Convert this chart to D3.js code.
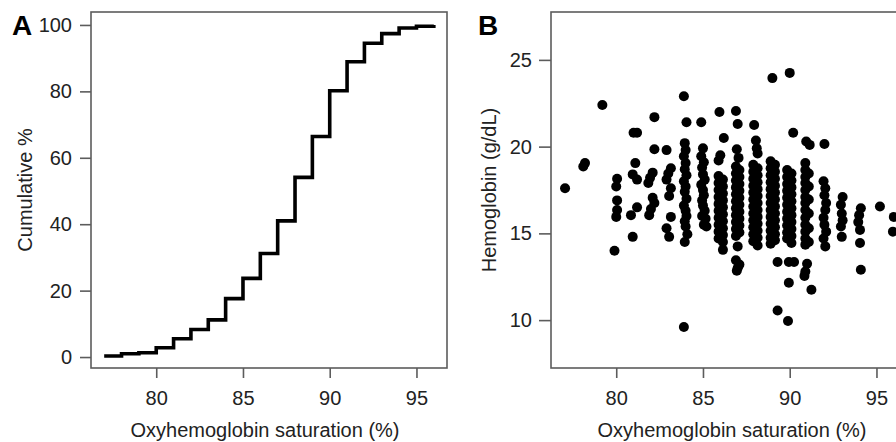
<!DOCTYPE html>
<html>
<head>
<meta charset="utf-8">
<script src="https://cdn.jsdelivr.net/npm/d3@7"></script>
<style>
  html, body { margin: 0; padding: 0; background: #fff; }
  svg { display: block; }
</style>
</head>
<body>
<svg id="chart" width="896" height="442"></svg>
<script>
// ---- Panel A: cumulative distribution of oxyhemoglobin saturation ----
const stepSat = [77, 78, 79, 80, 81, 82, 83, 84, 85, 86, 87, 88, 89, 90, 91, 92, 93, 94, 95, 96];
const cumPercent = [0.3, 1.0, 1.3, 2.8, 5.5, 8.3, 11.2, 17.6, 23.7, 31.2, 41.0, 54.1, 66.4, 80.2, 88.9, 94.5, 97.4, 99.1, 99.6, 100];

// ---- Axis ticks ----
const satTicks = [80, 85, 90, 95];
const cumTicks = [0, 20, 40, 60, 80, 100];
const hgbTicks = [10, 15, 20, 25];

// ---- Panel B: hemoglobin vs. oxyhemoglobin saturation (one entry per subject) ----
const oxySat = [
  77.05,
  78.1, 78.2,
  79.2, 79.9,
  80.05, 80.0, 80.05, 80.05, 80.0,
  81.0, 81.2, 81.1, 80.95, 81.2, 81.2, 80.85, 80.95,
  82.2, 82.2, 82.1, 81.95, 81.85, 82.1, 82.2, 82.0, 81.9,
  82.9, 83.15, 83.0, 82.9, 83.15, 83.05, 83.15, 82.9, 83.05,
  83.9, 84.05, 83.9, 83.95, 84.0, 83.9, 84.0, 83.95, 84.05, 83.9, 84.0, 83.95, 84.05, 83.9, 84.0, 84.05, 83.95, 84.0, 84.1, 83.95,
  84.9, 85.0, 84.9, 85.05, 84.95, 85.0, 85.1, 84.9, 85.0, 85.05, 84.95, 85.0, 85.1, 84.95, 85.15, 85.05, 85.2,
  85.95, 86.2, 86.0, 85.9,
  85.9, 85.9, 85.9, 85.9, 85.9, 85.9, 85.9, 85.9, 85.9, 85.9,
  86.15, 86.15, 86.15, 86.15, 86.15, 86.15, 86.15, 86.15, 86.15, 86.15, 86.15,
  86.9, 87.0, 86.95, 87.05,
  86.9, 86.9, 86.9, 86.9, 86.9, 86.9, 86.9, 86.9, 86.9, 86.9, 86.9,
  87.1, 87.1, 87.1, 87.1, 87.1, 87.1, 87.1, 87.1, 87.1, 87.1,
  87.0, 86.9, 87.1, 87.0, 86.95,
  87.95, 88.05, 88.1, 88.15,
  87.9, 87.9, 87.9, 87.9, 87.9, 87.9, 87.9, 87.9, 87.9, 87.9, 87.9, 87.9,
  88.15, 88.15, 88.15, 88.15, 88.15, 88.15, 88.15, 88.15, 88.15, 88.15, 88.15, 88.15,
  89.0, 89.3, 89.3,
  88.9, 88.9, 88.9, 88.9, 88.9, 88.9, 88.9, 88.9, 88.9, 88.9, 88.9, 88.9, 88.9,
  89.15, 89.15, 89.15, 89.15, 89.15, 89.15, 89.15, 89.15, 89.15, 89.15, 89.15, 89.15,
  90.0, 90.2, 89.95, 90.25, 89.95, 89.9,
  89.85, 89.85, 89.85, 89.85, 89.85, 89.85, 89.85, 89.85, 89.85, 89.85, 89.85,
  90.1, 90.1, 90.1, 90.1, 90.1, 90.1, 90.1, 90.1, 90.1, 90.1, 90.1,
  90.95, 91.15, 91.0, 90.9, 90.85, 91.25,
  90.9, 90.9, 90.9, 90.9, 90.9, 90.9, 90.9, 90.9, 90.9, 90.9, 90.9, 90.9, 90.9,
  91.1, 91.1, 91.1, 91.1, 91.1, 91.1,
  92.0, 91.95, 92.05, 92.0, 92.1, 92.05, 91.95, 92.0, 92.1, 91.95, 92.05,
  93.05, 92.95, 93.0, 93.05, 92.95, 93.0,
  94.1, 94.0, 93.95, 94.05, 94.05, 94.1,
  95.2, 96.0, 95.95
];
const hemoglobin = [
  17.6,
  18.85, 19.05,
  22.4, 14.0,
  18.15, 17.7, 16.9, 16.35, 15.95,
  20.8, 20.8, 19.05, 18.4, 18.1, 16.5, 16.05, 14.8,
  21.7, 19.85, 18.5, 18.2, 17.9, 17.05, 16.75, 16.4, 16.05,
  19.8, 18.75, 18.45, 18.1, 17.6, 17.15, 15.95, 15.3, 14.8,
  22.9, 21.4, 9.6, 20.2, 19.8, 19.45, 19.05, 18.7, 18.35, 18.0, 17.7, 17.4, 17.0, 16.6, 16.3, 16.0, 15.7, 15.4, 14.95, 14.5,
  21.4, 19.9, 19.45, 19.1, 18.8, 18.4, 18.1, 17.8, 17.5, 17.2, 16.9, 16.6, 16.3, 16.0, 15.85, 15.5, 15.4,
  22.0, 20.5, 19.5, 19.2,
  18.3, 17.9, 17.5, 17.1, 16.7, 16.3, 15.9, 15.5, 15.1, 14.7,
  18.1, 17.7, 17.3, 16.9, 16.5, 16.1, 15.7, 15.3, 14.9, 14.5, 14.05,
  22.05, 21.3, 19.85, 19.35,
  18.85, 18.45, 18.05, 17.65, 17.25, 16.85, 16.45, 16.05, 15.65, 15.25, 14.85,
  18.65, 18.25, 17.85, 17.45, 17.05, 16.65, 16.25, 15.85, 15.45, 15.05,
  14.25, 13.45, 13.2, 13.0, 12.85,
  21.25, 20.35, 19.9, 19.6,
  18.95, 18.55, 18.15, 17.75, 17.35, 16.95, 16.55, 16.15, 15.75, 15.35, 14.95, 14.55,
  18.75, 18.35, 17.95, 17.55, 17.15, 16.75, 16.35, 15.95, 15.55, 15.15, 14.75, 14.3,
  23.95, 13.35, 10.55,
  19.15, 18.75, 18.35, 17.95, 17.55, 17.15, 16.75, 16.35, 15.95, 15.55, 15.15, 14.75, 14.4,
  18.95, 18.55, 18.15, 17.75, 17.35, 16.95, 16.55, 16.15, 15.75, 15.35, 14.95, 14.6,
  24.25, 20.8, 13.35, 13.35, 12.15, 9.95,
  18.65, 18.25, 17.85, 17.45, 17.05, 16.65, 16.25, 15.85, 15.45, 15.05, 14.7,
  18.45, 18.05, 17.65, 17.25, 16.85, 16.45, 16.05, 15.65, 15.25, 14.85, 14.45,
  20.3, 20.1, 13.25, 12.8, 12.55, 11.75,
  19.05, 18.65, 18.25, 17.9, 17.5, 17.1, 16.75, 16.35, 15.9, 15.5, 15.1, 14.7, 14.35,
  18.45, 17.7, 16.95, 16.15, 15.3, 14.5,
  20.15, 18.0, 17.6, 17.2, 16.75, 16.35, 15.9, 15.5, 15.1, 14.7, 14.25,
  17.1, 16.65, 16.15, 15.75, 15.4, 14.8,
  16.45, 16.05, 15.65, 15.2, 14.45, 12.9,
  16.55, 15.95, 15.1
];

// ---- Drawing ----
const FONT = '"Liberation Sans", Arial, Helvetica, sans-serif';
const AXIS_GREY = "#5c5c5c";
const TEXT = "#222";
const svg = d3.select("#chart");

function styleAxis(g) {
  g.select(".domain").remove();
  g.selectAll(".tick line").attr("stroke", AXIS_GREY).attr("stroke-width", 1.6);
  g.selectAll(".tick text")
    .attr("fill", TEXT)
    .attr("font-family", FONT)
    .attr("font-size", 20);
}

function panelFrame(x0, x1, y0, y1) {
  svg.append("rect")
    .attr("x", x0).attr("y", y0)
    .attr("width", x1 - x0).attr("height", y1 - y0)
    .attr("fill", "none")
    .attr("stroke", AXIS_GREY)
    .attr("stroke-width", 1.6);
}

function label(txt, x, y, opts = {}) {
  const t = svg.append("text")
    .attr("x", x).attr("y", y)
    .attr("font-family", FONT)
    .attr("font-size", opts.size || 20)
    .attr("font-weight", opts.bold ? "bold" : "normal")
    .attr("fill", opts.bold ? "#000" : TEXT)
    .attr("text-anchor", opts.anchor || "middle")
    .text(txt);
  if (opts.rotate) t.attr("transform", `rotate(-90, ${x}, ${y})`);
  return t;
}

// Panel A
const ax = { left: 91, right: 447, top: 12, bottom: 368 };
const xA = d3.scaleLinear().domain([76.24, 96.76]).range([ax.left, ax.right]);
const yA = d3.scaleLinear().domain([-3.3, 103.9]).range([ax.bottom, ax.top]);

panelFrame(ax.left, ax.right, ax.top, ax.bottom);

svg.append("g")
  .attr("transform", `translate(0,${ax.bottom})`)
  .call(d3.axisBottom(xA).tickValues(satTicks).tickSize(10).tickPadding(13))
  .call(styleAxis);

svg.append("g")
  .attr("transform", `translate(${ax.left},0)`)
  .call(d3.axisLeft(yA).tickValues(cumTicks).tickSize(11).tickPadding(8))
  .call(styleAxis);

const stepLine = d3.line()
  .x((d, i) => xA(stepSat[i]))
  .y(d => yA(d))
  .curve(d3.curveStepAfter);

svg.append("path")
  .attr("d", stepLine(cumPercent))
  .attr("fill", "none")
  .attr("stroke", "#000")
  .attr("stroke-width", 3.6)
  .attr("stroke-linejoin", "miter")
  .attr("stroke-linecap", "butt");

label("Oxyhemoglobin saturation (%)", 265, 437);
label("Cumulative %", 32, 190, { rotate: true });
label("A", 12, 35, { size: 28, bold: true, anchor: "start" });

// Panel B
const bx = { left: 551, right: 907, top: 12, bottom: 368 };
const xB = d3.scaleLinear().domain([76.24, 96.76]).range([bx.left, bx.right]);
const yB = d3.scaleLinear().domain([7.24, 27.76]).range([bx.bottom, bx.top]);

panelFrame(bx.left, bx.right, bx.top, bx.bottom);

svg.append("g")
  .attr("transform", `translate(0,${bx.bottom})`)
  .call(d3.axisBottom(xB).tickValues(satTicks).tickSize(10).tickPadding(13))
  .call(styleAxis);

svg.append("g")
  .attr("transform", `translate(${bx.left},0)`)
  .call(d3.axisLeft(yB).tickValues(hgbTicks).tickSize(12).tickPadding(7))
  .call(styleAxis);

svg.append("g")
  .selectAll("circle")
  .data(hemoglobin)
  .join("circle")
  .attr("cx", (d, i) => xB(oxySat[i]))
  .attr("cy", d => yB(d))
  .attr("r", 5)
  .attr("fill", "#000");

label("Oxyhemoglobin saturation (%)", 732, 437);
label("Hemoglobin (g/dL)", 496, 190, { rotate: true });
label("B", 478, 35, { size: 28, bold: true, anchor: "start" });
</script>
</body>
</html>
